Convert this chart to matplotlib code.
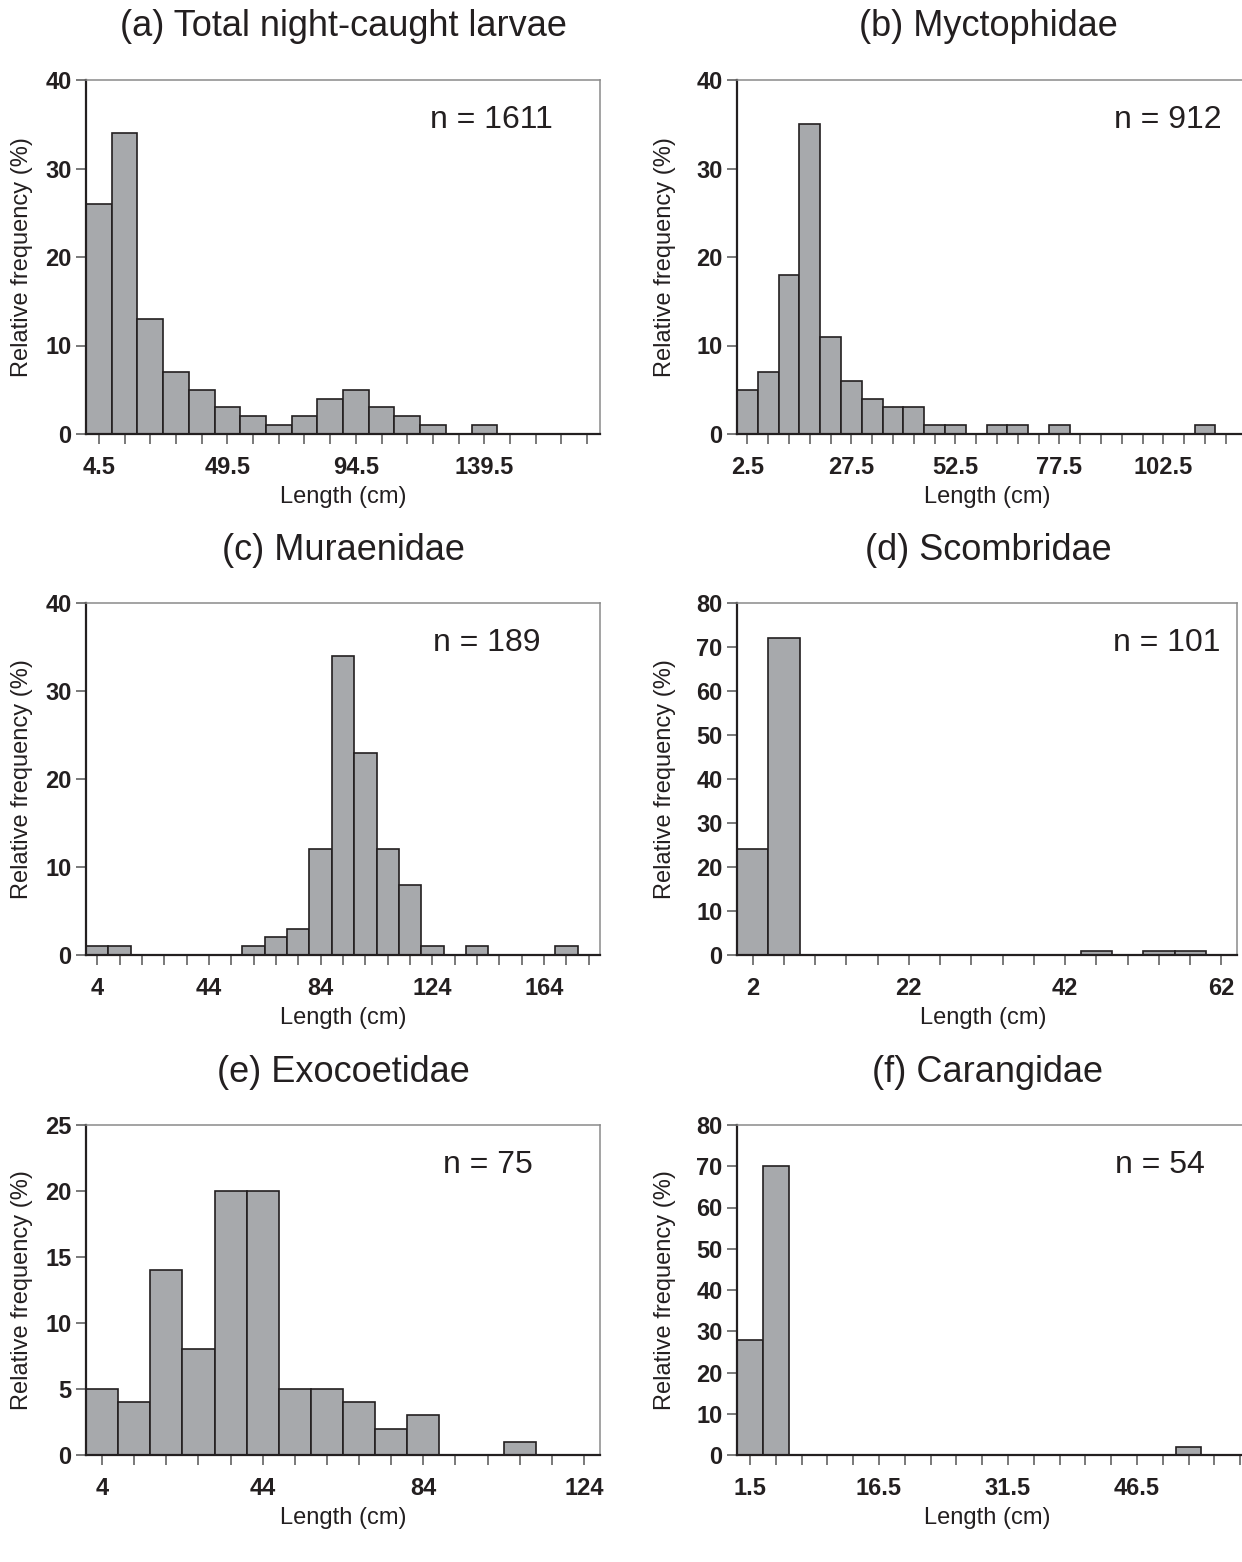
import numpy as np
import matplotlib
matplotlib.use("Agg")
import matplotlib.pyplot as plt

plt.rcParams['font.family'] = ['Liberation Sans', 'DejaVu Sans']

# relative frequency (%) per length bin
titles = ["(a) Total night-caught larvae", "(b) Myctophidae", "(c) Muraenidae",
          "(d) Scombridae", "(e) Exocoetidae", "(f) Carangidae"]
n_labels = ["n = 1611", "n = 912", "n = 189", "n = 101", "n = 75", "n = 54"]
bin_widths = [9, 5, 8, 4, 8, 3]
n_ticks = [20, 25, 23, 16, 16, 20]
x_max = [180, 125, 184, 64, 128, 60]
y_max = [40, 40, 40, 80, 25, 80]
y_step = [10, 10, 10, 10, 5, 10]

a_vals = [26, 34, 13, 7, 5, 3, 2, 1, 2, 4, 5, 3, 2, 1, 0, 1]
b_vals = [5, 7, 18, 35, 11, 6, 4, 3, 3, 1, 1, 0, 1, 1, 0, 1, 0, 0, 0, 0, 0, 0, 1]
c_vals = [1, 1, 0, 0, 0, 0, 0, 1, 2, 3, 12, 34, 23, 12, 8, 1, 0, 1, 0, 0, 0, 1]
d_vals = [24, 72, 0, 0, 0, 0, 0, 0, 0, 0, 0, 1, 0, 1, 1]
e_vals = [5, 4, 14, 8, 20, 20, 5, 5, 4, 2, 3, 0, 0, 1]
f_vals = [28, 70, 0, 0, 0, 0, 0, 0, 0, 0, 0, 0, 0, 0, 0, 0, 0, 2]
all_vals = [a_vals, b_vals, c_vals, d_vals, e_vals, f_vals]

W, H = 1242, 1562
ink = '#231f20'
fig = plt.figure(figsize=(W / 100, H / 100), dpi=100)

# axes boxes in pixels: left, right, top, bottom
boxes = [(86, 600, 80, 434), (737, 1257, 80, 434),
         (86, 600, 603, 955), (737, 1237, 603, 955),
         (86, 600, 1125, 1455), (737, 1253, 1125, 1455)]
title_x = [343, 988, 343, 988, 343, 988]
n_x = [491, 1168, 487, 1167, 488, 1160]
xlab_x = [343, 987, 343, 983, 343, 987]
ylab_x = [22, 665]

for i, (l, r, t, b) in enumerate(boxes):
    ax = fig.add_axes([l / W, 1 - b / H, (r - l) / W, (b - t) / H])
    vals = np.array(all_vals[i], dtype=float)
    bw = bin_widths[i]
    centers = bw * (np.arange(len(vals)) + 0.5)
    keep = vals > 0
    ax.bar(centers[keep], vals[keep], width=bw, color='#a7a9ac',
           edgecolor=ink, linewidth=1.2, zorder=2)

    ax.set_xlim(0, x_max[i])
    ax.set_ylim(0, y_max[i])

    ticks = bw * (np.arange(n_ticks[i]) + 0.5)
    ax.set_xticks(ticks)
    lbls = []
    for k, tv in enumerate(ticks):
        if k % 5 == 0:
            lbls.append(f"{tv:g}")
        else:
            lbls.append("")
    ax.set_xticklabels(lbls)
    ax.set_yticks(np.arange(0, y_max[i] + 1, y_step[i]))

    ax.tick_params(direction='out', length=7.5, width=1.1, color='#555555',
                   labelsize=17, labelcolor=ink)
    ax.tick_params(axis='x', pad=8)
    ax.tick_params(axis='y', pad=3)
    for lab in ax.get_xticklabels() + ax.get_yticklabels():
        lab.set_fontweight('bold')

    for side in ['left', 'bottom']:
        ax.spines[side].set_color(ink)
        ax.spines[side].set_linewidth(1.6)
    for side in ['top', 'right']:
        ax.spines[side].set_color('#8a8a8a')
        ax.spines[side].set_linewidth(1.1)

    col = i % 2
    fig.text(title_x[i] / W, 1 - (t - 53) / H, titles[i], ha='center',
             va='center', fontsize=26, color=ink)
    fig.text(n_x[i] / W, 1 - (t + 40) / H, n_labels[i], ha='center',
             va='center', fontsize=23, color=ink)
    fig.text(xlab_x[i] / W, 1 - (b + 63) / H, "Length (cm)", ha='center',
             va='center', fontsize=17, color=ink)
    fig.text(ylab_x[col] / W, 1 - ((t + b) / 2) / H, "Relative frequency (%)",
             ha='center', va='center', rotation=90, fontsize=17, color=ink)

fig.savefig("out.png", dpi=100, facecolor="white")
